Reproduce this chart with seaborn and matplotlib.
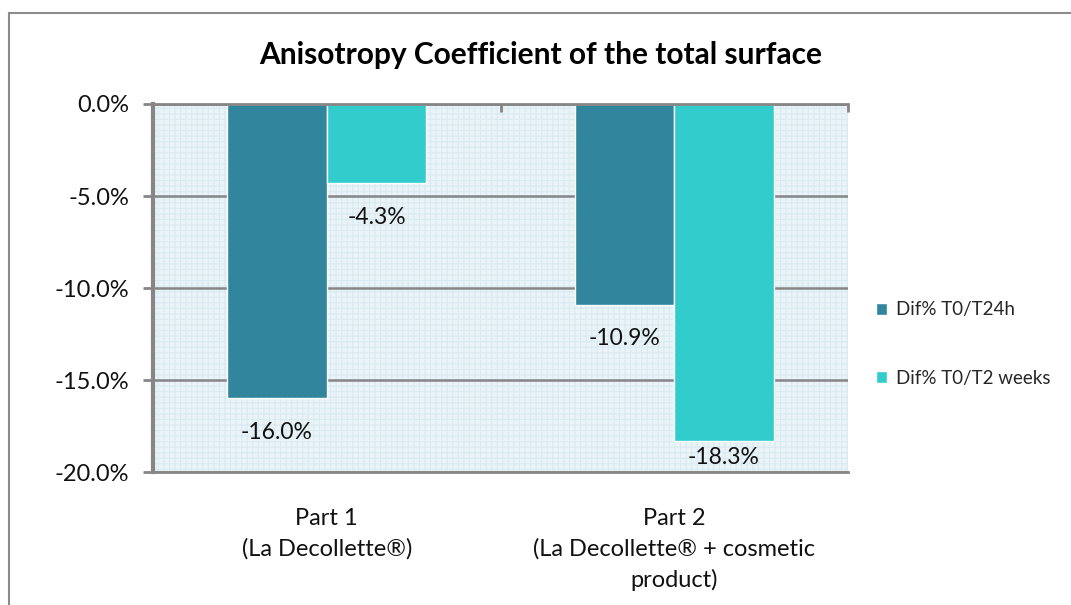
"""Anisotropy coefficient bar chart"""

import matplotlib
matplotlib.use('Agg')
import matplotlib.pyplot as plt
import matplotlib.patches as mpatches
from matplotlib.ticker import FixedLocator, FuncFormatter
import pandas as pd
import seaborn as sns

# data
parts = ['Part 1\n(La Decollette®)', 'Part 2\n(La Decollette® + cosmetic\nproduct)']
series = ['Dif% T0/T24h', 'Dif% T0/T2 weeks']
t24h = [-16.0, -10.9]
t2weeks = [-4.3, -18.3]
colors = ['#31859C', '#33CCCC']
y_ticks = [0, -5, -10, -15, -20]

df = pd.DataFrame({
    'part': parts * 2,
    'series': [series[0]] * 2 + [series[1]] * 2,
    'value': t24h + t2weeks,
})

sns.set_theme(style='white')
plt.rcParams['font.family'] = ['Lato', 'DejaVu Sans']
plt.rcParams['hatch.linewidth'] = 0.8

fig = plt.figure(figsize=(10.71, 6.05), dpi=100)
ax = fig.add_axes([0.1429, 0.2198, 0.6489, 0.6083])

# hatched light-blue background like the original
bg = mpatches.Rectangle((0, 0), 1, 1, transform=ax.transAxes, facecolor='#EAF4F8',
                        edgecolor='#D9EAF1', hatch='+++', lw=0, zorder=0)
ax.add_patch(bg)

sns.barplot(data=df, x='part', y='value', hue='series', palette=colors,
            width=0.573, gap=0, saturation=1, ax=ax, zorder=2)

ax.set_xlim(-0.5, 1.5)
ax.set_ylim(-20, 0)
ax.set_xlabel('')
ax.set_ylabel('')

# value labels below bar ends
for cont in ax.containers:
    for bar in cont:
        v = bar.get_height()
        y_lab = max(v - 1.85, -19.2)
        ax.text(bar.get_x() + bar.get_width() / 2, y_lab, f'{v:.1f}%',
                ha='center', va='center', fontsize=16.5, color='#111111', zorder=4)

# axes styling
grey = '#868686'
ax.set_axisbelow(True)
ax.yaxis.grid(True, color=grey, lw=1.8)
ax.yaxis.set_major_locator(FixedLocator(y_ticks))
ax.yaxis.set_major_formatter(FuncFormatter(lambda v, p: f'{v:.1f}%'))
ax.tick_params(axis='y', left=True, length=7, width=2, color=grey, pad=10,
               labelsize=17, labelcolor='#111111')
ax.tick_params(axis='x', which='major', length=0, pad=26, labelsize=17,
               labelcolor='#111111')
ax.xaxis.set_minor_locator(FixedLocator([-0.5, 0.5, 1.5]))
ax.tick_params(axis='x', which='minor', top=True, bottom=False, direction='in',
               length=6, width=2, color=grey)
for lab in ax.get_xticklabels():
    lab.set_linespacing(1.5)
    lab.set_va('top')

for side in ['top', 'bottom']:
    ax.spines[side].set_color(grey)
    ax.spines[side].set_linewidth(2)
ax.spines['left'].set_color(grey)
ax.spines['left'].set_linewidth(3)
ax.spines['right'].set_visible(False)

# legend
handles, labels = ax.get_legend_handles_labels()
ax.legend(handles, labels, loc='center left', bbox_to_anchor=(0.8175, 0.431),
          bbox_transform=fig.transFigure, frameon=False, fontsize=13.5,
          handlelength=0.6, handleheight=0.6, handletextpad=0.5,
          labelspacing=2.75, borderpad=0, borderaxespad=0)

# title
fig.text(0.505, 0.909, 'Anisotropy Coefficient of the total surface',
         ha='center', va='center', fontsize=21.5, fontweight='bold', color='#000000')

# outer chart border
border = mpatches.Rectangle((9 / 1071, -0.1), 1.2, 1.1 - 13 / 605,
                            transform=fig.transFigure, facecolor='none',
                            edgecolor='#8C8C8C', lw=1.5)
fig.patches.append(border)

fig.savefig('out.png', dpi=100)
